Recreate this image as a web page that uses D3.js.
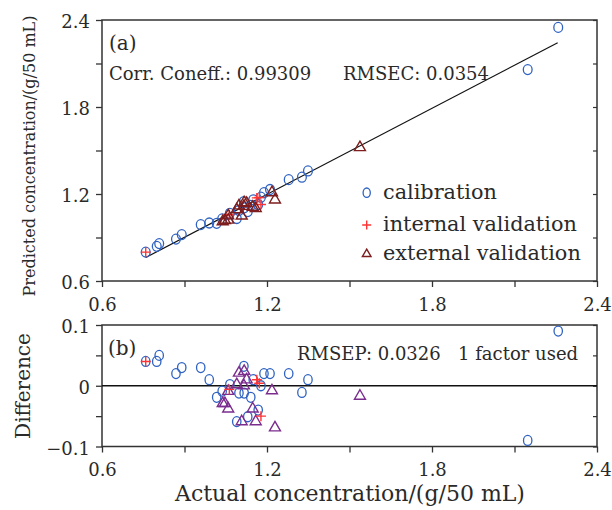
<!DOCTYPE html>
<html><head><meta charset="utf-8">
<script src="https://cdn.jsdelivr.net/npm/d3@7"></script>
<style>body{margin:0;background:#fff}svg{display:block}text{font-family:"DejaVu Serif",serif;fill:#2a2a2a}</style>
</head><body><svg id="c" width="612" height="510"></svg>
<script>
// ---- data ----
const calActual = [0.759,0.799,0.808,0.869,0.890,0.959,0.990,1.017,1.037,1.065,1.090,1.098,1.116,1.117,1.130,1.141,1.150,1.168,1.178,1.189,1.211,1.279,1.327,1.349,2.148,2.259];
const calPred   = [0.799,0.839,0.858,0.889,0.920,0.989,1.000,0.998,1.028,1.067,1.031,1.086,1.148,1.105,1.079,1.122,1.160,1.128,1.178,1.209,1.231,1.299,1.316,1.359,2.058,2.349];
const calDiff   = [0.040,0.040,0.050,0.020,0.030,0.030,0.010,-0.019,-0.009,0.002,-0.059,-0.012,0.032,-0.012,-0.051,-0.019,0.010,-0.040,0.000,0.020,0.020,0.020,-0.011,0.010,-0.090,0.090];

const intActual = [0.759,1.063,1.163,1.172,1.178];
const intPred   = [0.799,1.057,1.173,1.176,1.128];
const intDiff   = [0.040,-0.006,0.010,0.004,-0.050];

const extActual = [1.098,1.117,1.090,1.116,1.126,1.059,1.039,1.047,1.059,1.148,1.108,1.159,1.218,1.229,1.538];
const extPred   = [1.119,1.141,1.092,1.116,1.136,1.050,1.010,1.018,1.021,1.110,1.049,1.100,1.210,1.160,1.521];
const extDiff   = [0.021,0.024,0.002,0.000,0.010,-0.009,-0.029,-0.029,-0.038,-0.038,-0.059,-0.059,-0.008,-0.069,-0.017];

const fitX = [0.759, 2.257];
const fitY = [0.762, 2.243];

const xTicks = [0.6,0.9,1.2,1.5,1.8,2.1,2.4];
const xTickLabels = ["0.6","","1.2","","1.8","","2.4"];
const yTopTicks = [0.6,0.9,1.2,1.5,1.8,2.1,2.4];
const yTopTickLabels = ["0.6","","1.2","","1.8","","2.4"];
const yBotTicks = [-0.1,-0.05,0,0.05,0.1];
const yBotTickLabels = ["\u22120.1","","0","","0.1"];

const legendLabels = ["calibration","internal validation","external validation"];

// ---- drawing ----
const svg = d3.select("#c");
const L = 102, R = 597;
const x = d3.scaleLinear().domain([0.6,2.4]).range([L,R]);
const yT = d3.scaleLinear().domain([0.6,2.4]).range([281,20]);
const yB = d3.scaleLinear().domain([-0.1,0.1]).range([446.5,325]);

const cBlue = "#2f62c2", cRed = "#ff3333", cDark = "#7d1d1d", cPurple = "#7b2d8e", axisC = "#333";

function frame(y){
  const [b,t] = y.range();
  svg.append("rect").attr("x",L).attr("y",t).attr("width",R-L).attr("height",b-t)
    .attr("fill","none").attr("stroke",axisC).attr("stroke-width",1.5);
}
function axes(y, yTicks, yLabels, labelY){
  const [b,t] = y.range();
  const gx = svg.append("g").attr("transform",`translate(0,${b})`)
    .call(d3.axisBottom(x).tickValues(xTicks).tickFormat((d,i)=>xTickLabels[i]).tickSize(6).tickSizeOuter(0));
  gx.select(".domain").remove();
  gx.selectAll("line").attr("stroke",axisC).attr("stroke-width",1.3);
  gx.selectAll("text").attr("y",labelY).attr("dy",null).style("font-size","18px").style("font-family","DejaVu Serif").attr("fill","#2a2a2a");
  const gy = svg.append("g").attr("transform",`translate(${L},0)`)
    .call(d3.axisLeft(y).tickValues(yTicks).tickFormat((d,i)=>yLabels[i]).tickSize(6).tickSizeOuter(0));
  gy.select(".domain").remove();
  gy.selectAll("line").attr("stroke",axisC).attr("stroke-width",1.3);
  gy.selectAll("text").attr("x",-12).attr("dy","0.42em").style("font-size","18px").style("font-family","DejaVu Serif").attr("fill","#2a2a2a");
  const gr = svg.append("g").attr("transform",`translate(${R},0)`)
    .call(d3.axisLeft(y).tickValues(yTicks).tickFormat("").tickSize(-4).tickSizeOuter(0));
  gr.select(".domain").remove();
  gr.selectAll("line").attr("stroke",axisC).attr("stroke-width",1.2).attr("x2",-4);
}

function circles(g, xs, ys, y, rx, ry){
  g.selectAll(null).data(xs).join("ellipse")
    .attr("cx",(d)=>x(d)).attr("cy",(d,i)=>y(ys[i])).attr("rx",rx).attr("ry",ry)
    .attr("fill","none").attr("stroke",cBlue).attr("stroke-width",1.3);
}
function pluses(g, xs, ys, y, s){
  g.selectAll(null).data(xs).join("path")
    .attr("d",(d,i)=>{const cx=x(d), cy=y(ys[i]); return `M${cx-s},${cy}H${cx+s}M${cx},${cy-s}V${cy+s}`;})
    .attr("fill","none").attr("stroke",cRed).attr("stroke-width",1.4);
}
function tris(g, xs, ys, y, s, col){
  const tri = d3.symbol().type(d3.symbolTriangle).size(s);
  g.selectAll(null).data(xs).join("path")
    .attr("transform",(d,i)=>`translate(${x(d)},${y(ys[i])})`)
    .attr("d",tri).attr("fill","none").attr("stroke",col).attr("stroke-width",1.4);
}

// top panel
frame(yT);
axes(yT, yTopTicks, yTopTickLabels, 30);
svg.append("line").attr("x1",x(fitX[0])).attr("y1",yT(fitY[0])).attr("x2",x(fitX[1])).attr("y2",yT(fitY[1]))
  .attr("stroke","#111").attr("stroke-width",1.2);
const gT = svg.append("g");
circles(gT, calActual, calPred, yT, 4.4, 5);
pluses(gT, intActual, intPred, yT, 5);
tris(gT, extActual, extPred, yT, 52, cDark);

svg.append("text").attr("x",109).attr("y",50).style("font-size","20px").text("(a)");
svg.append("text").attr("x",109).attr("y",80).style("font-size","18px").text("Corr. Coneff.: 0.99309");
svg.append("text").attr("x",343).attr("y",80).style("font-size","18px").text("RMSEC: 0.0354");

// legend
const legY = [192.7, 225, 254];
const lg = svg.append("g");
lg.append("ellipse").attr("cx",366.7).attr("cy",legY[0]).attr("rx",3.6).attr("ry",4.7).attr("fill","none").attr("stroke",cBlue).attr("stroke-width",1.3);
lg.append("path").attr("d",`M${366.7-4.5},${legY[1]}H${366.7+4.5}M366.7,${legY[1]-4.5}V${legY[1]+4.5}`).attr("stroke",cRed).attr("stroke-width",1.4);
lg.append("path").attr("transform",`translate(366.7,${legY[2]})`).attr("d",d3.symbol().type(d3.symbolTriangle).size(32)).attr("fill","none").attr("stroke",cDark).attr("stroke-width",1.4);
lg.selectAll("text").data(legendLabels).join("text")
  .attr("x",383).attr("y",(d,i)=>legY[i]+6).style("font-size","20.8px").text(d=>d);

// bottom panel
frame(yB);
axes(yB, yBotTicks, yBotTickLabels, 29);
svg.append("line").attr("x1",L).attr("x2",R).attr("y1",yB(0)).attr("y2",yB(0)).attr("stroke","#111").attr("stroke-width",1.3);
const gB = svg.append("g");
circles(gB, calActual, calDiff, yB, 4.2, 5);
tris(gB, extActual, extDiff, yB, 52, cPurple);
pluses(gB, intActual, intDiff, yB, 5);

svg.append("text").attr("x",108).attr("y",355).style("font-size","20px").text("(b)");
svg.append("text").attr("x",297).attr("y",360).style("font-size","18px").text("RMSEP: 0.0326");
svg.append("text").attr("x",458).attr("y",360).style("font-size","18px").text("1 factor used");

// axis titles
svg.append("text").attr("x",350).attr("y",501).attr("text-anchor","middle").style("font-size","22px")
  .text("Actual concentration/(g/50 mL)");
svg.append("text").attr("transform","translate(35,156) rotate(-90)").attr("text-anchor","middle").style("font-size","16px")
  .text("Predicted concentration/(g/50 mL)");
svg.append("text").attr("transform","translate(30,386) rotate(-90)").attr("text-anchor","middle").style("font-size","20px")
  .text("Difference");
</script></body></html>
